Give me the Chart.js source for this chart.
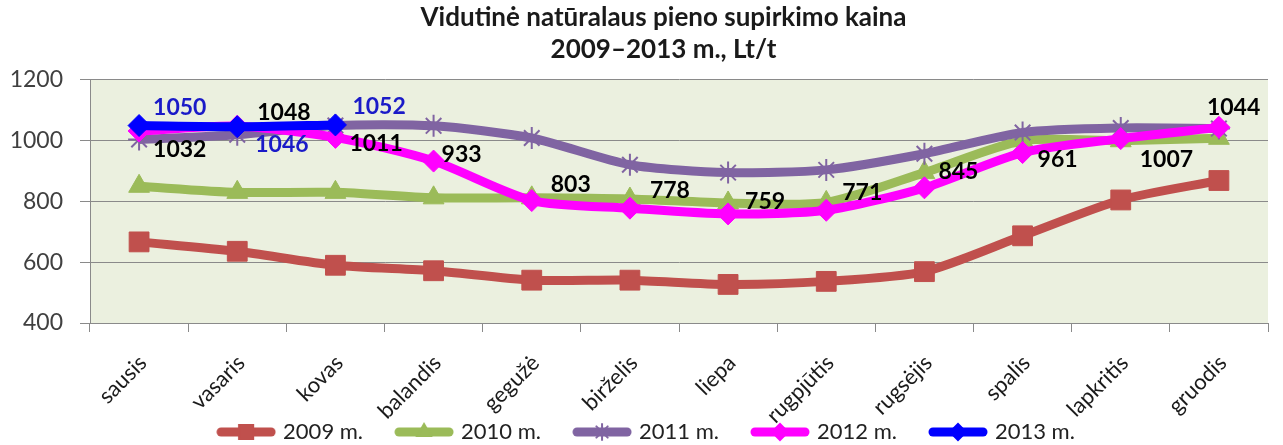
<!DOCTYPE html>
<html>
<head>
<meta charset="utf-8">
<script src="https://cdn.jsdelivr.net/npm/chart.js@4.4.1/dist/chart.umd.min.js"></script>
<style>
  html, body { margin: 0; padding: 0; background: #fff; }
  #wrap { width: 1283px; height: 445px; }
</style>
</head>
<body>
<div id="wrap"><canvas id="c"></canvas></div>
<script>
const months = ['sausis', 'vasaris', 'kovas', 'balandis', 'gegužė', 'birželis', 'liepa', 'rugpjūtis', 'rugsėjis', 'spalis', 'lapkritis', 'gruodis'];
const y2009 = [667, 636, 590, 572, 541, 541, 527, 537, 569, 687, 805, 869];
const y2010 = [850, 830, 830, 812, 812, 808, 795, 797, 895, 1000, 1000, 1008];
const y2011 = [1004, 1020, 1050, 1049, 1009, 921, 895, 904, 957, 1027, 1042, 1040];
const y2012 = [1032, 1048, 1011, 933, 803, 778, 759, 771, 845, 961, 1007, 1044];
const y2013 = [1050, 1046, 1052];

// label offsets (px) from the point, text is left aligned
const off2012 = [[14, 19], [20, -14], [14, 6], [8, -6], [19, -16], [20, -18], [17, -12], [16, -18], [14, -16], [15, 7], [19, 21], [-12, -20]];
const off2013 = [[14, -18], [18, 18], [17, -18]];

const FONT = 'Lato, "Open Sans", sans-serif';
const LEGEND_PAD = 35;

function legendIcon(color, style, radius) {
  const cv = document.createElement('canvas');
  cv.width = 60; cv.height = 22;
  const ctx = cv.getContext('2d');
  ctx.strokeStyle = color;
  ctx.lineWidth = 9;
  ctx.lineCap = 'round';
  ctx.beginPath();
  ctx.moveTo(5, 11);
  ctx.lineTo(55, 11);
  ctx.stroke();
  ctx.fillStyle = color;
  ctx.lineWidth = 2;
  Chart.helpers.drawPoint(ctx, { pointStyle: style, radius: radius, borderWidth: 2 }, 30, 11);
  return cv;
}

const bgPlugin = {
  id: 'bg',
  beforeDraw(chart) {
    const a = chart.chartArea;
    const ctx = chart.ctx;
    ctx.save();
    ctx.fillStyle = '#ebf0df';
    ctx.fillRect(a.left, a.top, a.right - a.left, a.bottom - a.top);
    ctx.restore();
  },
  afterLayout(chart) {
    // legend row sits lower, labels may run into it, title a bit right
    const lg = chart.legend;
    const shift = 432 - (lg.top + LEGEND_PAD + 11);
    lg.top += shift;
    lg.bottom += shift;
    lg.left += 10;
    lg.right += 10;
    chart.scales.x.bottom = chart.height;
    chart.titleBlock.left += 26;
    chart.titleBlock.right += 26;
  }
};

const labelPlugin = {
  id: 'vals',
  afterDatasetsDraw(chart) {
    const ctx = chart.ctx;
    ctx.save();
    ctx.font = 'bold 23px ' + FONT;
    ctx.textAlign = 'left';
    ctx.textBaseline = 'middle';
    chart.data.datasets.forEach((ds, i) => {
      if (!ds.offsets) return;
      const meta = chart.getDatasetMeta(i);
      ctx.fillStyle = ds.labelColor;
      meta.data.forEach((pt, j) => {
        const o = ds.offsets[j];
        ctx.fillText(ds.data[j], pt.x + o[0], pt.y + o[1]);
      });
    });
    ctx.restore();
  }
};

const datasets = [
  { label: '2009 m.', data: y2009, borderColor: '#c0504d', backgroundColor: '#c0504d', pointStyle: 'rect', pointRadius: 14, order: 4 },
  { label: '2010 m.', data: y2010, borderColor: '#9bbb59', backgroundColor: '#9bbb59', pointStyle: 'triangle', pointRadius: 12, order: 3 },
  { label: '2011 m.', data: y2011, borderColor: '#8064a2', backgroundColor: '#8064a2', pointStyle: 'star', pointRadius: 11, pointBorderWidth: 2, order: 2 },
  { label: '2012 m.', data: y2012, borderColor: '#ff00ff', backgroundColor: '#ff00ff', pointStyle: 'rectRot', pointRadius: 11, order: 1, offsets: off2012, labelColor: '#000' },
  { label: '2013 m.', data: y2013, borderColor: '#0000ff', backgroundColor: '#0000ff', pointStyle: 'rectRot', pointRadius: 11, order: 0, offsets: off2013, labelColor: '#1a1ac8' }
];
datasets.forEach(d => {
  d.borderWidth = 9;
  d.tension = 0.25;
  d.pointBorderColor = d.pointBorderColor || d.borderColor;
  if (d.pointBorderWidth === undefined) d.pointBorderWidth = 1;
  d.legendIcon = legendIcon(d.borderColor, d.pointStyle, d.pointStyle === 'rect' ? 10 : 8);
});

new Chart(document.getElementById('c'), {
  type: 'line',
  data: { labels: months, datasets: datasets },
  plugins: [bgPlugin, labelPlugin],
  options: {
    responsive: true,
    maintainAspectRatio: false,
    animation: false,
    layout: { padding: { left: 0, right: 8, top: 0, bottom: 0 } },
    plugins: {
      title: {
        display: true,
        text: ['Vidutinė natūralaus pieno supirkimo kaina', '2009–2013 m., Lt/t'],
        color: '#1a1a1a',
        font: { family: FONT, size: 26, weight: 'bold', lineHeight: 1.23 },
        padding: { top: 2, bottom: 14 }
      },
      legend: {
        position: 'bottom',
        labels: {
          usePointStyle: true,
          pointStyleWidth: 52,
          boxHeight: 22,
          color: '#222',
          font: { family: FONT, size: 22 },
          padding: LEGEND_PAD,
          generateLabels(chart) {
            return chart.data.datasets.map((d, i) => ({
              text: d.label, pointStyle: d.legendIcon, fillStyle: d.borderColor,
              strokeStyle: d.borderColor, lineWidth: 0, fontColor: '#222', datasetIndex: i, hidden: false
            }));
          }
        }
      },
      tooltip: { enabled: false }
    },
    scales: {
      x: {
        offset: true,
        afterFit(scale) { scale.height = 55; },
        grid: { drawOnChartArea: false, drawTicks: true, tickLength: 9, color: '#8a8a8a', offset: true },
        border: { color: '#8a8a8a' },
        ticks: { color: '#1a1a1a', minRotation: 45, maxRotation: 45, padding: 18, labelOffset: 4, autoSkip: false, font: { family: FONT, size: 22 } }
      },
      y: {
        min: 400, max: 1200,
        afterFit(scale) { scale.width = 90; },
        grid: { color: '#8a8a8a', tickLength: 10 },
        border: { color: '#8a8a8a' },
        ticks: { stepSize: 200, color: '#404040', padding: 17, font: { family: FONT, size: 23 }, callback: v => String(v) }
      }
    }
  }
});
</script>
</body>
</html>
